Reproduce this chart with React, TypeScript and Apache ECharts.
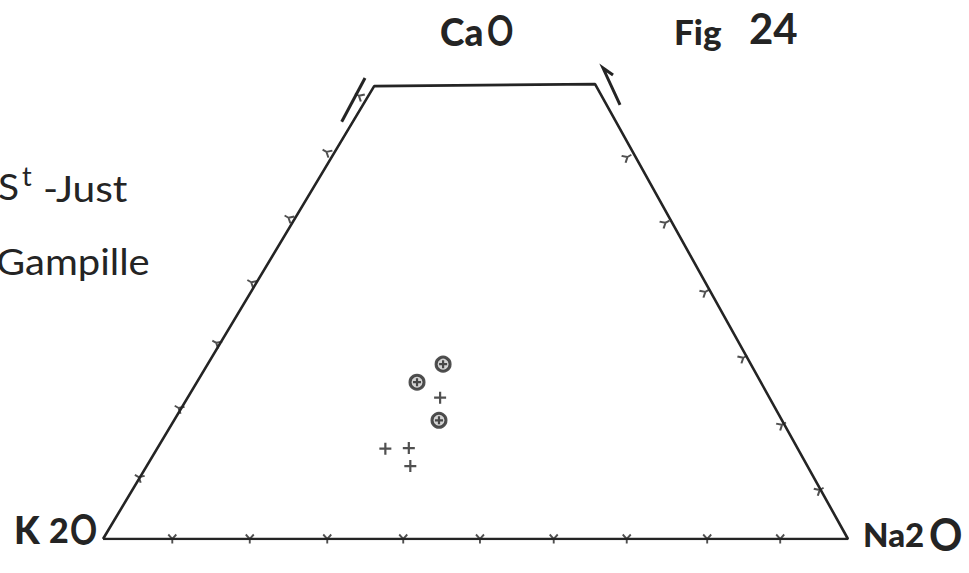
import React, { useEffect, useRef } from "react";
import * as echarts from "echarts";

const H = Math.sqrt(3) / 2;

// Frame corners (CaO %, Na2O %, K2O %): K2O, Na2O, top-right, top-left
const frameCaO = [0, 0, 70.5, 70.2, 0];
const frameNa2O = [0, 100, 30.8, 1.3, 0];
const frameK2O = [100, 0, -1.3, 28.5, 100];

// Tick marks (%)
const baseTickNa2O = [9.3, 19.7, 30.1, 40.3, 50.6, 60.5, 70.3, 81.1, 90.9];
const leftTickCaO = [9.6, 20.3, 30.4, 39.8, 49.8, 60.0, 68.7];
const rightTickCaO = [7.6, 17.7, 28.1, 38.3, 49.0, 59.2];

// Samples (CaO, Na2O, K2O %)
const circledCaO = [27.1, 24.3, 18.4];
const circledNa2O = [32.1, 30.0, 35.9];
const circledK2O = [40.8, 45.7, 45.7];
const plusCaO = [21.9, 14.0, 14.1, 11.3];
const plusNa2O = [34.3, 30.9, 34.0, 35.6];
const plusK2O = [43.8, 55.1, 51.9, 53.1];

// Break arrows (diagram units)
const leftArrowX = [0.3204, 0.3517];
const leftArrowY = [0.5601, 0.6188];
const rightArrowX = [0.694, 0.6711, 0.6846];
const rightArrowY = [0.5826, 0.6322, 0.6228];

const tern = (ca: number, na: number, k: number): [number, number] => {
  const s = ca + na + k;
  return [(na + ca / 2) / s, (ca / s) * H];
};

const INK = "#242424";
const TICK = "path://M0,0 L4,5 L8,0 M4,5 L4,10";
const PLUS = "path://M0,5 L10,5 M5,0 L5,10";

export default function App() {
  const ref = useRef<HTMLDivElement>(null);
  useEffect(() => {
    if (!ref.current) return;
    const chart = echarts.init(ref.current, undefined, { renderer: "svg" });
    const frame = frameCaO.map((c, i) => tern(c, frameNa2O[i], frameK2O[i]));
    const baseTicks = baseTickNa2O.map((n) => tern(0, n, 100 - n));
    const leftTicks = leftTickCaO.map((c) => tern(c, 0, 100 - c));
    const rightTicks = rightTickCaO.map((c) => tern(c, 100 - c, 0));
    const circled = circledCaO.map((c, i) => tern(c, circledNa2O[i], circledK2O[i]));
    const plus = plusCaO.map((c, i) => tern(c, plusNa2O[i], plusK2O[i]));
    const tickStyle = { color: "transparent", borderColor: INK, borderWidth: 2 };
    const txt = (x: number, y: number, text: string, size: number, weight: string | number, extra: any = {}) => ({
      type: "text",
      x,
      y,
      ...extra,
      style: {
        text,
        fontFamily: "Lato",
        fontSize: size,
        fontWeight: weight,
        fill: INK,
        textAlign: "left",
        textVerticalAlign: "middle",
      },
    });
    chart.setOption({
      animation: false,
      backgroundColor: "#ffffff",
      grid: { left: 103, right: 121, top: 17.5, bottom: 34 },
      xAxis: { type: "value", min: 0, max: 1, show: false },
      yAxis: { type: "value", min: 0, max: 0.7, show: false },
      series: [
        {
          type: "line",
          data: frame,
          symbol: "none",
          lineStyle: { color: INK, width: 2.6 },
          silent: true,
        },
        { type: "scatter", data: baseTicks, symbol: TICK, symbolSize: [8, 9], itemStyle: tickStyle },
        { type: "scatter", data: leftTicks, symbol: TICK, symbolSize: [8, 9], symbolRotate: -120, itemStyle: tickStyle },
        { type: "scatter", data: rightTicks, symbol: TICK, symbolSize: [8, 9], symbolRotate: 120, itemStyle: tickStyle },
        {
          type: "lines",
          coordinateSystem: "cartesian2d",
          polyline: true,
          symbol: ["none", "arrow"],
          symbolSize: 12,
          lineStyle: { color: INK, width: 3, opacity: 1 },
          data: [{ coords: leftArrowX.map((x, i) => [x, leftArrowY[i]]) }],
        },
        {
          type: "lines",
          coordinateSystem: "cartesian2d",
          polyline: true,
          symbol: "none",
          lineStyle: { color: INK, width: 3, opacity: 1 },
          data: [{ coords: rightArrowX.map((x, i) => [x, rightArrowY[i]]) }],
        },
        {
          type: "scatter",
          name: "circled",
          data: circled,
          symbol: "circle",
          symbolSize: 14,
          itemStyle: { color: "#c8c8c8", borderColor: INK, borderWidth: 3 },
          z: 3,
        },
        {
          type: "scatter",
          data: circled,
          symbol: PLUS,
          symbolSize: 8,
          itemStyle: { color: "transparent", borderColor: INK, borderWidth: 2.2 },
          z: 4,
        },
        {
          type: "scatter",
          name: "plus",
          data: plus,
          symbol: PLUS,
          symbolSize: 12,
          itemStyle: { color: "transparent", borderColor: INK, borderWidth: 2.2 },
          z: 4,
        },
      ],
      graphic: [
        txt(440, 31, "Ca", 37, 900),
        txt(487, 30, "O", 42, "bold", { scaleX: 0.78 }),
        txt(674, 31, "Fig", 35, 900),
        txt(749, 28, "24", 42, "bold"),
        txt(14, 529, "K", 37, 900),
        txt(49, 529, "2", 34, 900),
        txt(70, 528, "O", 42, "bold", { scaleX: 0.8 }),
        txt(863, 534, "Na2", 33, 900),
        txt(929, 533, "O", 45, "bold", { scaleX: 0.92 }),
        txt(-2, 186, "S", 37, "normal", { scaleX: 1.05 }),
        txt(22, 175, "t", 27, "normal"),
        txt(43, 188, "-Just", 37, "normal", { scaleX: 1.1 }),
        txt(-4, 261, "Gampille", 37, "normal", { scaleX: 1.08 }),
      ],
    });
    return () => chart.dispose();
  }, []);
  return (
    <div
      ref={ref}
      style={{ position: "fixed", left: 0, top: 0, width: 969, height: 573, background: "#fff" }}
    />
  );
}
